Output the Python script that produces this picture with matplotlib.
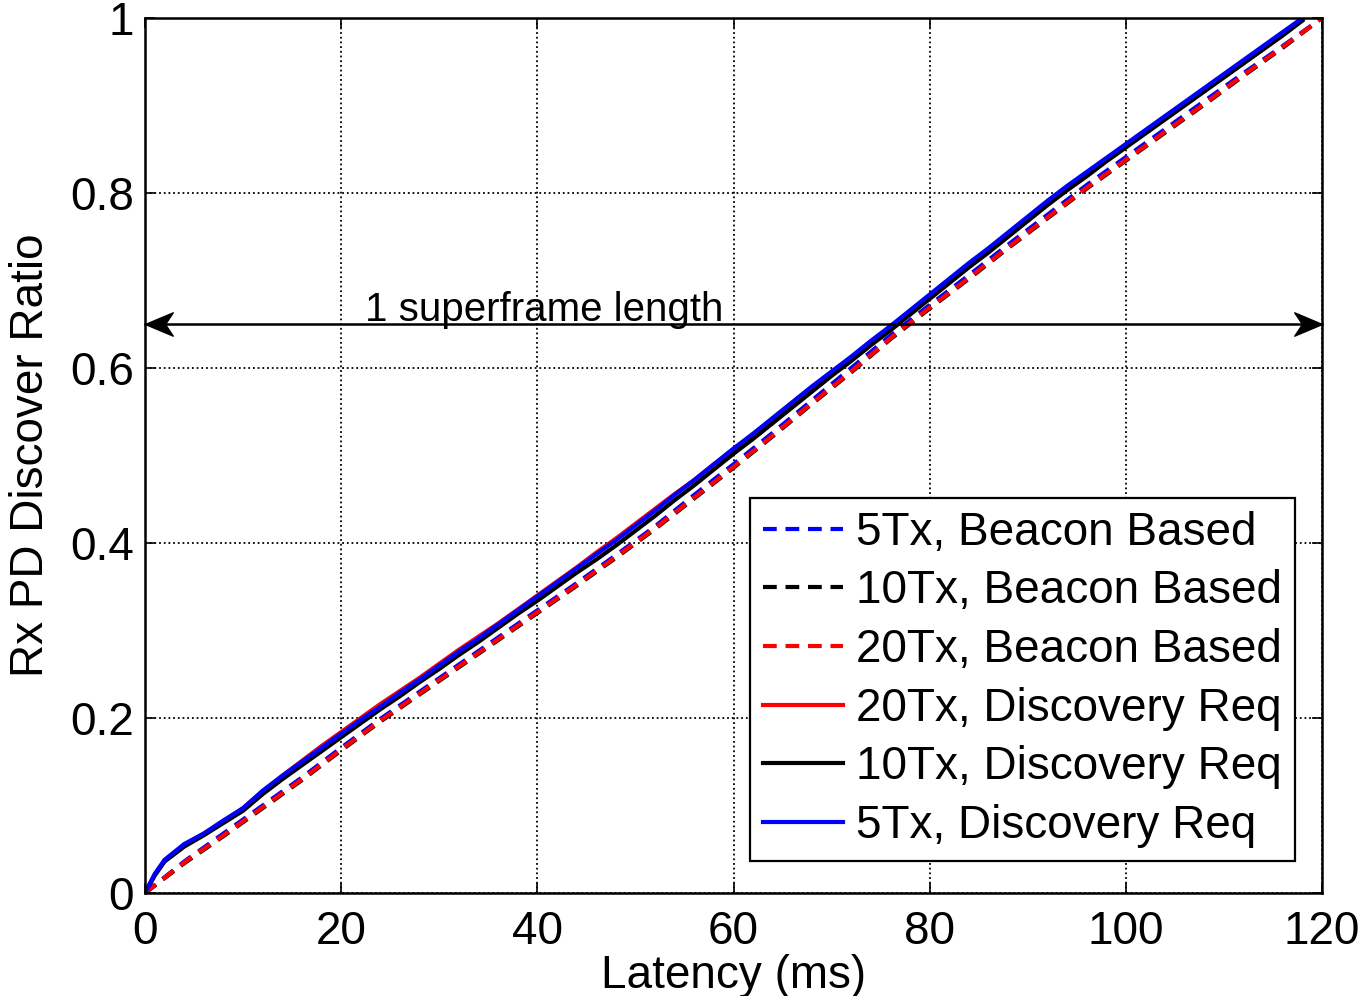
import matplotlib
matplotlib.use("Agg")
import matplotlib.pyplot as plt
from matplotlib.path import Path

plt.rcParams["font.family"] = ["Liberation Sans", "DejaVu Sans"]

# Latency samples (ms)
latency_beacon = [0, 4, 8, 12, 16, 20, 24, 28, 32, 36, 40, 44, 48, 52, 56, 60,
                  64, 68, 72, 76, 80, 84, 88, 92, 96, 100, 104, 108, 112, 116, 120]
latency_req = [0, 1, 2, 4, 6, 8, 10, 12, 14, 16, 18, 20, 22, 24, 26, 28, 30, 32,
               34, 36, 38, 40, 42, 44, 46, 48, 50, 52, 54, 56, 58, 60, 62, 64, 66,
               68, 70, 72, 74, 76, 78, 80, 82, 84, 86, 88, 90, 92, 94, 96, 98, 100,
               102, 104, 106, 108, 110, 112, 114, 116, 118]

# Beacon based discovery ratio
beacon_5tx = [0, 0.036, 0.068, 0.100, 0.132, 0.166, 0.199, 0.230, 0.261, 0.292,
              0.323, 0.354, 0.386, 0.419, 0.455, 0.490, 0.526, 0.563, 0.600, 0.637,
              0.672, 0.706, 0.741, 0.775, 0.809, 0.841, 0.873, 0.905, 0.937, 0.968, 1.0]
beacon_10tx = [0, 0.034, 0.065, 0.097, 0.129, 0.163, 0.196, 0.227, 0.258, 0.289,
               0.320, 0.351, 0.383, 0.416, 0.451, 0.486, 0.522, 0.559, 0.595, 0.633,
               0.668, 0.702, 0.737, 0.771, 0.805, 0.837, 0.869, 0.901, 0.934, 0.966, 1.0]
beacon_20tx = [0, 0.035, 0.066, 0.098, 0.130, 0.164, 0.197, 0.228, 0.259, 0.290,
               0.321, 0.352, 0.384, 0.417, 0.452, 0.487, 0.523, 0.560, 0.596, 0.634,
               0.669, 0.703, 0.738, 0.772, 0.806, 0.838, 0.870, 0.902, 0.935, 0.967, 1.0]

# Discovery request based discovery ratio
req_5tx = [0, 0.022, 0.038, 0.056, 0.068, 0.083, 0.097, 0.117, 0.134, 0.150, 0.166,
           0.182, 0.198, 0.213, 0.229, 0.244, 0.260, 0.276, 0.291, 0.307, 0.323,
           0.339, 0.355, 0.371, 0.387, 0.403, 0.420, 0.437, 0.455, 0.472, 0.490,
           0.508, 0.525, 0.543, 0.561, 0.579, 0.596, 0.613, 0.631, 0.648, 0.666,
           0.684, 0.702, 0.720, 0.737, 0.755, 0.773, 0.791, 0.808, 0.824, 0.840,
           0.856, 0.872, 0.888, 0.904, 0.920, 0.936, 0.952, 0.968, 0.984, 1.0]
req_10tx = [0, 0.020, 0.036, 0.053, 0.066, 0.080, 0.094, 0.113, 0.130, 0.146, 0.162,
            0.178, 0.194, 0.210, 0.225, 0.241, 0.256, 0.272, 0.287, 0.303, 0.319,
            0.334, 0.350, 0.366, 0.381, 0.397, 0.414, 0.431, 0.449, 0.466, 0.484,
            0.502, 0.519, 0.537, 0.555, 0.573, 0.591, 0.608, 0.626, 0.643, 0.661,
            0.679, 0.697, 0.715, 0.732, 0.750, 0.768, 0.786, 0.803, 0.819, 0.836,
            0.852, 0.868, 0.884, 0.900, 0.916, 0.932, 0.948, 0.964, 0.980, 0.997]
req_20tx = [0, 0.021, 0.037, 0.055, 0.068, 0.082, 0.097, 0.116, 0.134, 0.151, 0.168,
            0.184, 0.200, 0.216, 0.231, 0.246, 0.262, 0.278, 0.293, 0.308, 0.324,
            0.340, 0.356, 0.372, 0.389, 0.405, 0.422, 0.439, 0.456, 0.472, 0.490,
            0.507, 0.524, 0.542, 0.560, 0.578, 0.595, 0.612, 0.629, 0.646, 0.664,
            0.682, 0.700, 0.718, 0.735, 0.753, 0.771, 0.789, 0.806, 0.822, 0.838,
            0.854, 0.870, 0.886, 0.902, 0.918, 0.934, 0.950, 0.966, 0.982, 0.999]

labels = ["5Tx, Beacon Based", "10Tx, Beacon Based", "20Tx, Beacon Based",
          "20Tx, Discovery Req", "10Tx, Discovery Req", "5Tx, Discovery Req"]

superframe_ms = 120
arrow_level = 0.65
arrow_text = "1 superframe length"

FS = 33

fig = plt.figure(figsize=(13.61, 9.96), dpi=100)
ax = fig.add_axes([145 / 1361, 1 - 893 / 996, 1177 / 1361, 875 / 996])

lw = 3.0
dash = (3.3, 2.1)
ax.plot(latency_beacon, beacon_5tx, color=(0, 0, 1), lw=lw, dashes=dash, label=labels[0])
ax.plot(latency_beacon, beacon_10tx, color="black", lw=lw, dashes=dash, label=labels[1])
ax.plot(latency_beacon, beacon_20tx, color=(1, 0, 0), lw=lw, dashes=dash, label=labels[2])
ax.plot(latency_req, req_20tx, color=(1, 0, 0), lw=lw, label=labels[3])
ax.plot(latency_req, req_10tx, color="black", lw=lw, label=labels[4])
ax.plot(latency_req, req_5tx, color=(0, 0, 1), lw=lw, label=labels[5])

ax.set_xlim(0, 120)
ax.set_ylim(0, 1)
ax.set_xticks([0, 20, 40, 60, 80, 100, 120])
ax.set_yticks([0, 0.2, 0.4, 0.6, 0.8, 1.0])
ax.set_yticklabels(["0", "0.2", "0.4", "0.6", "0.8", "1"])

ax.grid(True, color="black", linestyle=(0, (1, 1.6)), linewidth=1.3)
ax.tick_params(direction="in", length=7, width=1.2, labelsize=FS, pad=8,
               top=True, right=True)
ax.tick_params(axis="x", pad=12)
for s in ax.spines.values():
    s.set_linewidth(1.8)

ax.set_xlabel("Latency (ms)", fontsize=FS, labelpad=0)
ax.set_ylabel("Rx PD Discover Ratio", fontsize=FS, labelpad=12)

# Double-headed arrow spanning one superframe
head = Path([(0, 0), (1, 0.42), (0.72, 0), (1, -0.42), (0, 0)],
            [Path.MOVETO, Path.LINETO, Path.LINETO, Path.LINETO, Path.CLOSEPOLY])
head_right = Path([(-x, y) for x, y in head.vertices], head.codes)
ax.plot([0, superframe_ms], [arrow_level, arrow_level], color="black", lw=1.8,
        zorder=5, clip_on=False)
ax.plot([0], [arrow_level], marker=head, markersize=40, color="black", lw=0,
        zorder=6, clip_on=False)
ax.plot([superframe_ms], [arrow_level], marker=head_right, markersize=40,
        color="black", lw=0, zorder=6, clip_on=False)
ax.text(22.4, arrow_level + 0.004, arrow_text, fontsize=29, ha="left",
        va="baseline", zorder=7)

leg = ax.legend(loc="lower right", bbox_to_anchor=(0.977, 0.0366), fontsize=FS,
                frameon=True, fancybox=False, framealpha=1, edgecolor="black",
                handlelength=1.75, handletextpad=0.28, labelspacing=0.32,
                borderpad=0.28, borderaxespad=0)
leg.get_frame().set_linewidth(1.6)
leg.set_zorder(10)

fig.savefig("out.png", dpi=100, facecolor="white")
